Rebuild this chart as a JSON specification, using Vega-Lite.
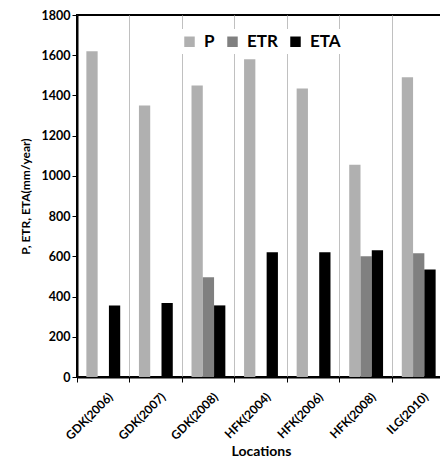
{
  "$schema": "https://vega.github.io/schema/vega-lite/v6.json",
  "autosize": "none",
  "width": 368,
  "height": 362,
  "padding": {"left": 77, "top": 15, "right": 0, "bottom": 84},
  "background": "white",
  "config": {
    "font": "Lato",
    "view": {"stroke": "black", "strokeWidth": 2},
    "axis": {"labelFont": "Lato", "titleFont": "Lato", "labelFontWeight": "bold", "titleFontWeight": "bold", "labelColor": "black", "titleColor": "black"}
  },
  "data": {
    "values": [
      {"loc": "GDK(2006)", "var": "P", "value": 1620},
      {"loc": "GDK(2006)", "var": "ETA", "value": 356},
      {"loc": "GDK(2007)", "var": "P", "value": 1350},
      {"loc": "GDK(2007)", "var": "ETA", "value": 368},
      {"loc": "GDK(2008)", "var": "P", "value": 1450},
      {"loc": "GDK(2008)", "var": "ETR", "value": 496},
      {"loc": "GDK(2008)", "var": "ETA", "value": 356},
      {"loc": "HFK(2004)", "var": "P", "value": 1580},
      {"loc": "HFK(2004)", "var": "ETA", "value": 620},
      {"loc": "HFK(2006)", "var": "P", "value": 1435},
      {"loc": "HFK(2006)", "var": "ETA", "value": 620},
      {"loc": "HFK(2008)", "var": "P", "value": 1055},
      {"loc": "HFK(2008)", "var": "ETR", "value": 600},
      {"loc": "HFK(2008)", "var": "ETA", "value": 630},
      {"loc": "ILG(2010)", "var": "P", "value": 1490},
      {"loc": "ILG(2010)", "var": "ETR", "value": 615},
      {"loc": "ILG(2010)", "var": "ETA", "value": 535}
    ]
  },
  "mark": {"type": "bar"},
  "encoding": {
    "x": {
      "field": "loc", "type": "nominal", "sort": null,
      "scale": {"paddingInner": 0, "paddingOuter": 0},
      "axis": {
        "title": "Locations", "titleFontSize": 14, "titlePadding": 3,
        "labelAngle": -45, "labelFontSize": 12, "labelOffset": 4, "labelPadding": 9,
        "bandPosition": 0, "grid": true, "gridColor": "#c0c0c0", "gridWidth": 1,
        "domainColor": "black", "domainWidth": 2,
        "tickColor": "black", "tickSize": 5, "tickWidth": 1
      }
    },
    "xOffset": {
      "field": "var", "type": "nominal",
      "sort": ["P", "ETR", "ETA"],
      "scale": {"domain": ["P", "ETR", "ETA"], "paddingInner": 0, "paddingOuter": 0.83}
    },
    "y": {
      "field": "value", "type": "quantitative",
      "scale": {"domain": [0, 1800]},
      "axis": {
        "title": "P, ETR, ETA(mm/year)", "titleFontSize": 12, "titlePadding": 9,
        "values": [0, 200, 400, 600, 800, 1000, 1200, 1400, 1600, 1800],
        "format": "d",
        "labelFontSize": 12.5, "grid": false,
        "domainColor": "black", "domainWidth": 2,
        "tickColor": "black", "tickSize": 5, "tickWidth": 1
      }
    },
    "color": {
      "field": "var", "type": "nominal",
      "scale": {"domain": ["P", "ETR", "ETA"], "range": ["#b0b0b0", "#808080", "#000000"]},
      "legend": {
        "title": null, "orient": "none", "direction": "horizontal",
        "legendX": 100, "legendY": 14,
        "fillColor": "white", "padding": 4,
        "symbolType": "square", "symbolSize": 110, "symbolStrokeWidth": 0,
        "labelFontSize": 17, "labelFontWeight": "bold", "labelColor": "black", "labelFont": "Lato",
        "columnPadding": 9, "labelOffset": 6
      }
    }
  }
}
